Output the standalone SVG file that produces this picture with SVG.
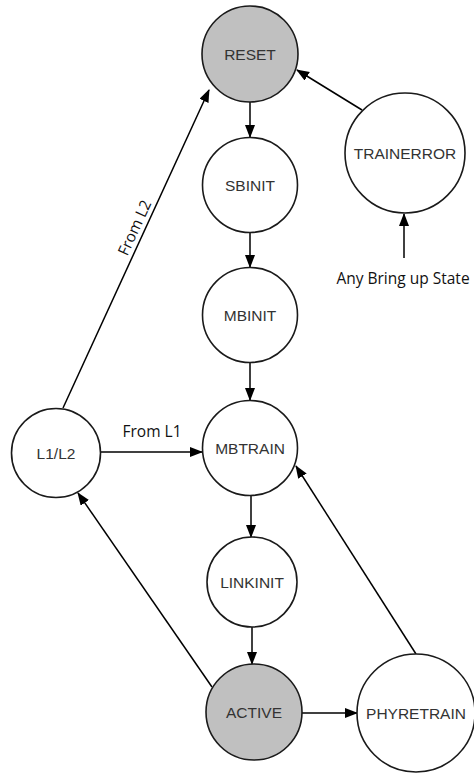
<svg xmlns="http://www.w3.org/2000/svg" width="474" height="775" viewBox="0 0 474 775">
  <style>
    .state circle { fill: #ffffff; stroke: #1a1a1a; stroke-width: 1.6; }
    .state.hot circle { fill: #c0c0c0; }
    .state text { font-family: "Liberation Sans", Arial, sans-serif; font-size: 15.5px; fill: #333333; text-anchor: middle; dominant-baseline: central; }
    .edges line { stroke: #000000; stroke-width: 1.5; fill: none; marker-end: url(#arrow); }
    .note { font-family: "Open Sans", "Liberation Sans", sans-serif; font-size: 15.5px; fill: #111111; }
  </style>
  <defs>
    <marker id="arrow" markerUnits="userSpaceOnUse" markerWidth="13" markerHeight="11" refX="12" refY="5" orient="auto">
      <path d="M0,0 L13,5 L0,10 Z" fill="#000000"/>
    </marker>
  </defs>
  <rect width="474" height="775" fill="#ffffff"/>

  <g class="edges">
    <line x1="250" y1="102" x2="250" y2="137"/>
    <line x1="250" y1="233" x2="250" y2="267"/>
    <line x1="250" y1="363" x2="250" y2="400"/>
    <line x1="251" y1="496" x2="251" y2="537"/>
    <line x1="252" y1="627" x2="252" y2="664"/>
    <line x1="302" y1="713" x2="357" y2="713"/>
    <line x1="100" y1="452" x2="202" y2="452"/>
    <line x1="212" y1="687" x2="78" y2="493"/>
    <line x1="63" y1="408" x2="209" y2="90"/>
    <line x1="416" y1="654" x2="296" y2="466"/>
    <line x1="362" y1="110" x2="297" y2="70"/>
    <line x1="404" y1="258" x2="404" y2="214"/>
  </g>

  <g id="reset" class="state hot">
    <circle cx="250" cy="54" r="48"/>
    <text x="250" y="54">RESET</text>
  </g>
  <g id="sbinit" class="state">
    <circle cx="250" cy="185" r="47.5"/>
    <text x="250" y="185">SBINIT</text>
  </g>
  <g id="mbinit" class="state">
    <circle cx="250" cy="315" r="47.5"/>
    <text x="250" y="315">MBINIT</text>
  </g>
  <g id="mbtrain" class="state">
    <circle cx="250" cy="448" r="47.5"/>
    <text x="250" y="448">MBTRAIN</text>
  </g>
  <g id="linkinit" class="state">
    <circle cx="252" cy="582" r="45"/>
    <text x="252" y="582">LINKINIT</text>
  </g>
  <g id="active" class="state hot">
    <circle cx="254" cy="712" r="48"/>
    <text x="254" y="712">ACTIVE</text>
  </g>
  <g id="phyretrain" class="state">
    <circle cx="416" cy="713" r="59"/>
    <text x="416" y="713">PHYRETRAIN</text>
  </g>
  <g id="trainerror" class="state">
    <circle cx="405" cy="153" r="60"/>
    <text x="405" y="153">TRAINERROR</text>
  </g>
  <g id="l1l2" class="state">
    <circle cx="56" cy="453" r="44.5"/>
    <text x="56" y="453">L1/L2</text>
  </g>

  <g id="labels">
    <text class="note" x="152" y="437" text-anchor="middle">From L1</text>
    <text class="note" transform="translate(144,232) rotate(-65.3)" x="0" y="-5" text-anchor="middle">From L2</text>
    <text class="note" x="403" y="284" text-anchor="middle">Any Bring up State</text>
  </g>
</svg>
